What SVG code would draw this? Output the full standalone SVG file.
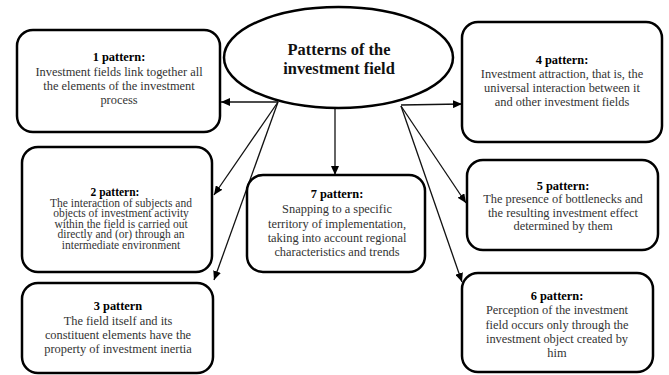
<svg xmlns="http://www.w3.org/2000/svg" width="669" height="375" viewBox="0 0 669 375">
<defs>
<marker id="arr" markerUnits="userSpaceOnUse" markerWidth="10" markerHeight="8" refX="9" refY="4" orient="auto">
<path d="M0,0 L9,4 L0,8 Z" fill="#000"/>
</marker>
<style>
.box{fill:#fff;stroke:#000;stroke-width:2.5}
.conn{stroke:#111;stroke-width:1.3;fill:none;marker-end:url(#arr)}
.t{font-family:"Liberation Serif","Times New Roman",serif;font-size:12.4px;fill:#333;text-anchor:middle}
.h{font-weight:bold;fill:#000}
.s{font-size:11.5px}
.title{font-family:"Liberation Serif","Times New Roman",serif;font-size:16.4px;font-weight:bold;fill:#111;text-anchor:middle}
</style>
</defs>
<rect width="669" height="375" fill="#fff"/>
<g id="connectors">
<line class="conn" x1="278" y1="102" x2="221" y2="102"/>
<line class="conn" x1="278" y1="102" x2="214" y2="195"/>
<line class="conn" x1="278" y1="102" x2="214" y2="280"/>
<line class="conn" x1="335" y1="108" x2="335" y2="175"/>
<line class="conn" x1="401" y1="105" x2="462" y2="104"/>
<line class="conn" x1="401" y1="106" x2="466" y2="203"/>
<line class="conn" x1="401" y1="106" x2="462" y2="282"/>
</g>
<g id="center">
<ellipse cx="338.5" cy="57.5" rx="114.5" ry="50.5" fill="#fff" stroke="#000" stroke-width="2.5"/>
<text class="title" x="339" y="55">Patterns of the</text>
<text class="title" x="339" y="74">investment field</text>
</g>
<g id="p1">
<rect class="box" x="17" y="30" width="203" height="102" rx="16"/>
<text class="t h" x="119" y="61">1 pattern:</text>
<text class="t" x="119" y="76">Investment fields link together all</text>
<text class="t" x="119" y="90">the elements of the investment</text>
<text class="t" x="119" y="103.5">process</text>
</g>
<g id="p2">
<rect class="box" x="22" y="147" width="190" height="125" rx="16"/>
<text class="t s h" x="115" y="196">2 pattern:</text>
<text class="t s" x="121" y="206.5">The interaction of subjects and</text>
<text class="t s" x="121" y="217">objects of investment activity</text>
<text class="t s" x="121" y="227.5">within the field is carried out</text>
<text class="t s" x="121" y="238">directly and (or) through an</text>
<text class="t s" x="121" y="248.5">intermediate  environment</text>
</g>
<g id="p3">
<rect class="box" x="22" y="283" width="191" height="90" rx="16"/>
<text class="t h" x="118" y="310">3 pattern</text>
<text class="t" x="118" y="324.5">The field itself and its</text>
<text class="t" x="118" y="339">constituent elements have the</text>
<text class="t" x="118" y="353">property of investment inertia</text>
</g>
<g id="p4">
<rect class="box" x="462" y="22" width="200" height="120" rx="16"/>
<text class="t h" x="562" y="64">4 pattern:</text>
<text class="t" x="562" y="78">Investment attraction, that is, the</text>
<text class="t" x="562" y="92">universal interaction between it</text>
<text class="t" x="562" y="106">and other investment fields</text>
</g>
<g id="p5">
<rect class="box" x="467" y="160" width="191" height="90" rx="16"/>
<text class="t h" x="563" y="189.5">5 pattern:</text>
<text class="t" x="563" y="203">The presence of bottlenecks and</text>
<text class="t" x="563" y="216.5">the resulting investment effect</text>
<text class="t" x="563" y="230">determined by them</text>
</g>
<g id="p6">
<rect class="box" x="462" y="273" width="191" height="99" rx="16"/>
<text class="t h" x="557" y="300">6 pattern:</text>
<text class="t" x="557" y="314">Perception of the investment</text>
<text class="t" x="557" y="328.5">field occurs only through the</text>
<text class="t" x="557" y="343">investment object created by</text>
<text class="t" x="557" y="357">him</text>
</g>
<g id="p7">
<rect class="box" x="247" y="175" width="178" height="97" rx="16"/>
<text class="t h" x="337" y="198">7 pattern:</text>
<text class="t" x="337" y="213">Snapping to a specific</text>
<text class="t" x="337" y="227.5">territory of implementation,</text>
<text class="t" x="337" y="242">taking into account regional</text>
<text class="t" x="337" y="256">characteristics and trends</text>
</g>
</svg>
